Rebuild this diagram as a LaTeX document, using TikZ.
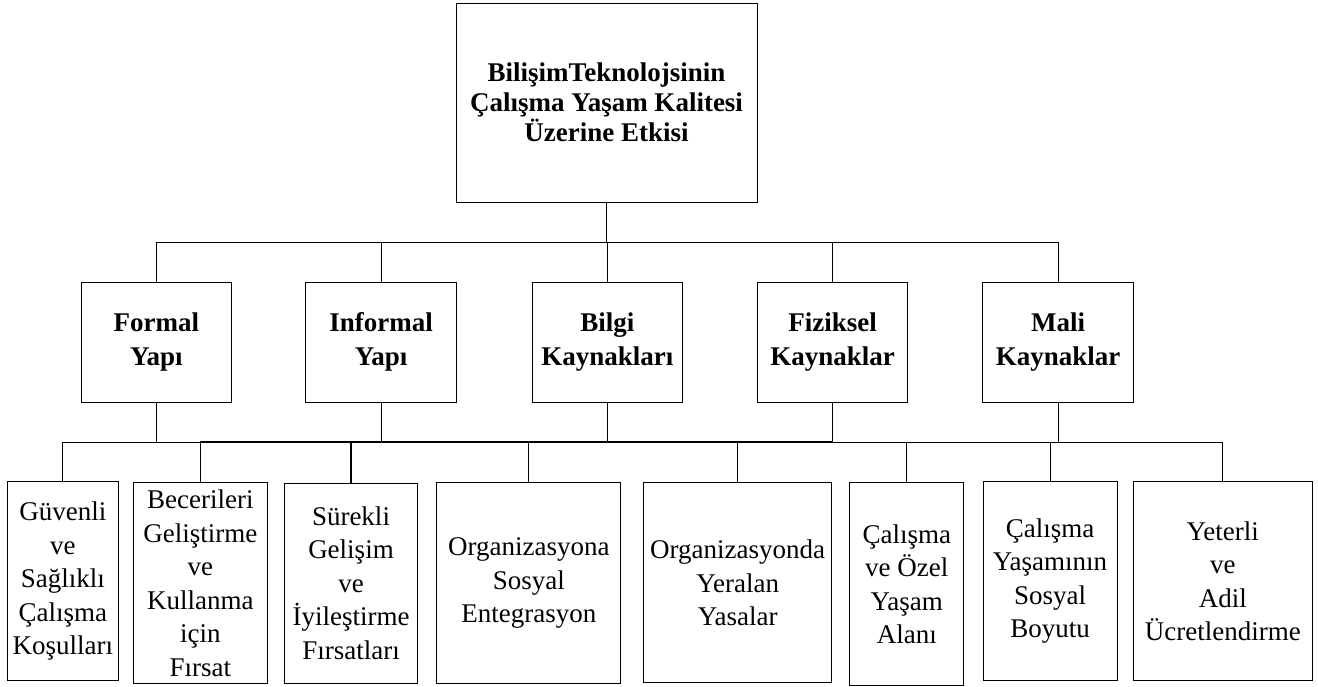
\documentclass[tikz,border=0pt]{standalone}
\usepackage{fontspec}
\setmainfont{Liberation Serif}
\begin{document}
\begin{tikzpicture}[x=1pt,y=-1pt,
  box/.style={draw=black,line width=1pt,align=center,inner sep=2pt,fill=white},
  topbox/.style={box,font=\bfseries\fontsize{27}{30}\selectfont,minimum width=301pt,minimum height=199pt},
  midbox/.style={box,font=\bfseries\fontsize{27}{33.7}\selectfont,minimum width=150.5pt,minimum height=120pt},
  lowbox/.style={box,font=\fontsize{27}{33.5}\selectfont},
  link/.style={draw=black,line width=1pt},
  thick link/.style={draw=black,line width=1.5pt}]
\path[use as bounding box] (0,0) rectangle (1318,686);

\node[topbox] (top) at (606.5,102.5) {Bili\c{s}imTeknolojsinin\\\c{C}al\i\c{s}ma Ya\c{s}am Kalitesi\\\"Uzerine Etkisi};

\node[midbox] (m1) at (156.3,342) {Formal\\Yap\i};
\node[midbox] (m2) at (381.2,342) {Informal\\Yap\i};
\node[midbox] (m3) at (607.3,342) {Bilgi\\Kaynaklar\i};
\node[midbox] (m4) at (832.7,342) {Fiziksel\\Kaynaklar};
\node[midbox] (m5) at (1058.2,342) {Mali\\Kaynaklar};

\node[lowbox,minimum width=111pt,minimum height=199pt] (b1) at (62.8,581.2) {G\"uvenli\\ve\\Sa\u{g}l\i kl\i\\\c{C}al\i\c{s}ma\\Ko\c{s}ullar\i};
\node[lowbox,minimum width=134pt,minimum height=201pt] (b2) at (200.3,583.3) {Becerileri\\Geli\c{s}tirme\\ve\\Kullanma\\i\c{c}in\\F\i rsat};
\node[lowbox,minimum width=133.4pt,minimum height=200pt] (b3) at (351,583) {S\"urekli\\Geli\c{s}im\\ve\\\.Iyile\c{s}tirme\\F\i rsatlar\i};
\node[lowbox,minimum width=184.3pt,minimum height=200.6pt] (b4) at (528.8,583) {Organizasyona\\Sosyal\\Entegrasyon};
\node[lowbox,minimum width=188pt,minimum height=200.3pt] (b5) at (737.7,582.8) {Organizasyonda\\Yeralan\\Yasalar};
\node[lowbox,minimum width=113.7pt,minimum height=203.3pt] (b6) at (906.8,584.3) {\c{C}al\i\c{s}ma\\ve \"Ozel\\Ya\c{s}am\\Alan\i};
\node[lowbox,minimum width=134pt,minimum height=199pt] (b7) at (1050,581.2) {\c{C}al\i\c{s}ma\\Ya\c{s}am\i n\i n\\Sosyal\\Boyutu};
\node[lowbox,minimum width=179pt,minimum height=199pt] (b8) at (1222.8,581.2) {Yeterli\\ve\\Adil\\\"Ucretlendirme};

\coordinate (busA) at (606.5,242.3);
\coordinate (busB) at (606.5,442);

% top level
\draw[link] (top.south) -- (busA);
\foreach \m in {m1,m2,m3,m4,m5} \draw[link] (busA) -| (\m.north);

% lower bus and connections
\foreach \b in {b1,b4,b5,b6,b7,b8} \draw[link] (busB) -| (\b.north);
\foreach \m in {m1,m2,m3,m5} \draw[link] (\m.south) -- (\m.south |- busB);
\draw[thick link] (b2.north) |- (m4.south |- busB) -- (m4.south);
\draw[thick link] (b3.north) -- (b3.north |- busB);
\end{tikzpicture}
\end{document}
